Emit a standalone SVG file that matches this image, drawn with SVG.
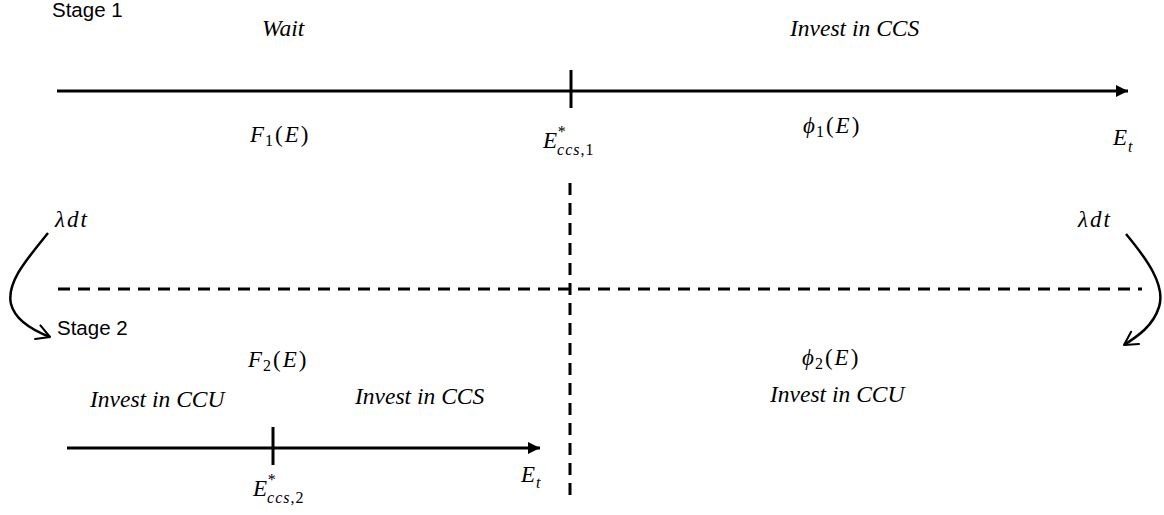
<svg xmlns="http://www.w3.org/2000/svg" width="1164" height="515" viewBox="0 0 1164 515">
<defs>
<marker id="ah" viewBox="0 0 10 10" refX="10" refY="5" markerWidth="4.3" markerHeight="4" markerUnits="strokeWidth" orient="auto">
<path d="M0,0 L10,5 L0,10 z" fill="#000"/>
</marker>
<marker id="oa" viewBox="0 0 12 12" refX="10" refY="6" markerWidth="7" markerHeight="7" markerUnits="strokeWidth" orient="auto">
<path d="M1,1 L10,6 L1,11" fill="none" stroke="#000" stroke-width="1.4" stroke-linecap="round" stroke-linejoin="round"/>
</marker>
<style>
.ax{stroke:#000;stroke-width:3;fill:none}
.dash{stroke:#000;stroke-width:3;fill:none;stroke-dasharray:12 8}
.tk{stroke:#000;stroke-width:3}
.cv{stroke:#000;stroke-width:2.5;fill:none}
.lab{font-family:"Liberation Sans",Arial,sans-serif;font-size:20.5px;fill:#000}
.it{font-family:"Liberation Serif","Times New Roman",serif;font-style:italic;font-size:23.5px;fill:#000}
.m{font-family:"Liberation Serif","Times New Roman",serif;font-size:23px;fill:#000}
.mi{font-style:italic}
.sb{font-size:16px}
.ss{letter-spacing:1px}
</style>
</defs>
<g id="connectors">
<line class="ax" x1="57" y1="91" x2="1128" y2="91" marker-end="url(#ah)"/>
<line class="tk" x1="571" y1="70" x2="571" y2="108"/>
<line class="dash" x1="570" y1="183" x2="570" y2="503"/>
<line class="dash" x1="58" y1="289" x2="1142" y2="289"/>
<line class="ax" x1="67" y1="448" x2="540" y2="448" marker-end="url(#ah)"/>
<line class="tk" x1="273" y1="427" x2="273" y2="465"/>
<path class="cv" d="M48,233 C28,258 6,282 11,304 C15,320 32,330 50,337" marker-end="url(#oa)"/>
<path class="cv" d="M1126,234 C1146,258 1166,285 1159,307 C1153,326 1138,336 1124,345" marker-end="url(#oa)"/>
</g>
<g id="stage1">
<text class="lab" x="52" y="17">Stage 1</text>
<text class="it" x="262" y="36">Wait</text>
<text class="it" x="790" y="36">Invest in CCS</text>
<text class="m" x="250" y="142"><tspan class="mi">F</tspan><tspan class="sb" dx="1" dy="4">1</tspan><tspan dx="2" dy="-4">(</tspan><tspan class="mi" dx="2">E</tspan><tspan dx="2">)</tspan></text>
<text class="m" x="543" y="148"><tspan class="mi">E</tspan><tspan class="sb mi" dx="0" dy="-11">*</tspan><tspan class="sb mi ss" dx="-8" dy="18">ccs</tspan><tspan class="sb ss">,1</tspan></text>
<text class="m" x="803" y="133"><tspan class="mi">ϕ</tspan><tspan class="sb" dx="1" dy="4">1</tspan><tspan dx="2" dy="-4">(</tspan><tspan class="mi" dx="2">E</tspan><tspan dx="2">)</tspan></text>
<text class="m" x="1113" y="145"><tspan class="mi">E</tspan><tspan class="sb mi" dx="1" dy="7">t</tspan></text>
</g>
<g id="transition">
<text class="m mi" x="55" y="227" letter-spacing="2">λdt</text>
<text class="m mi" x="1078" y="227" letter-spacing="2">λdt</text>
</g>
<g id="stage2">
<text class="lab" x="57" y="335">Stage 2</text>
<text class="m" x="248" y="367"><tspan class="mi">F</tspan><tspan class="sb" dx="1" dy="4">2</tspan><tspan dx="2" dy="-4">(</tspan><tspan class="mi" dx="2">E</tspan><tspan dx="2">)</tspan></text>
<text class="m" x="802" y="365"><tspan class="mi">ϕ</tspan><tspan class="sb" dx="1" dy="4">2</tspan><tspan dx="2" dy="-4">(</tspan><tspan class="mi" dx="2">E</tspan><tspan dx="2">)</tspan></text>
<text class="it" x="90" y="407">Invest in CCU</text>
<text class="it" x="355" y="404">Invest in CCS</text>
<text class="it" x="770" y="402">Invest in CCU</text>
<text class="m" x="253" y="496"><tspan class="mi">E</tspan><tspan class="sb mi" dx="0" dy="-11">*</tspan><tspan class="sb mi ss" dx="-8" dy="18">ccs</tspan><tspan class="sb ss">,2</tspan></text>
<text class="m" x="521" y="482"><tspan class="mi">E</tspan><tspan class="sb mi" dx="1" dy="6">t</tspan></text>
</g>
</svg>
